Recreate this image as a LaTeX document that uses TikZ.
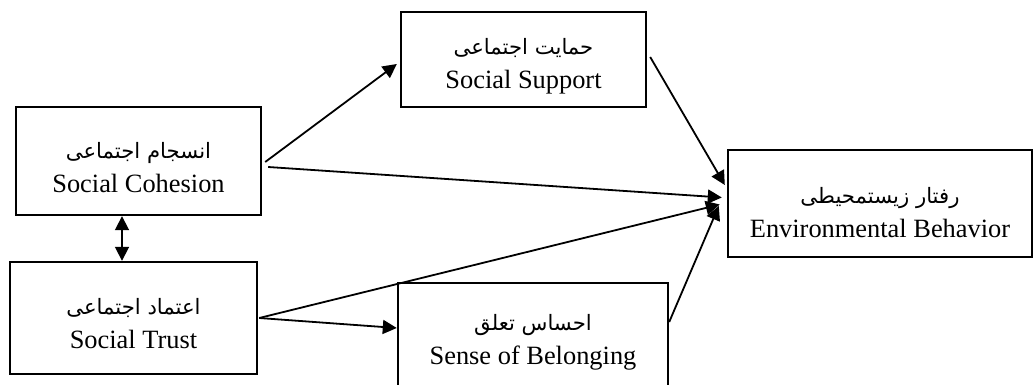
\documentclass[tikz,border=0pt]{standalone}
\usepackage{fontspec}
\setmainfont{Liberation Serif}
\newfontfamily\arabicfont[Script=Arabic]{DejaVu Sans}
\TeXXeTstate=1
\usetikzlibrary{arrows.meta,calc}
\newcommand{\pers}[1]{{\arabicfont\fontsize{10.6}{16}\selectfont\beginR #1\endR}}
\begin{document}
\begin{tikzpicture}[x=0.5pt,y=-0.5pt,
  box/.style={draw, line width=1.2pt, inner sep=0pt},
  txt/.style={inner sep=0pt, align=center, font=\fontsize{13.2}{16}\selectfont},
  >={Triangle[length=7pt,width=7pt]},
  arr/.style={line width=0.9pt, ->},
]
\clip (0,0) rectangle (1035,385);
\node[box, minimum width=122.5pt, minimum height=54pt] (coh) at (138.5,161) {};
\node[txt] (coht) at ($(coh)+(0,7)$) {\pers{انسجام اجتماعی}\\[1pt]Social Cohesion};
\node[box, minimum width=123.5pt, minimum height=56pt] (tru) at (133.5,318) {};
\node[txt] (trut) at ($(tru)+(0,6)$) {\pers{اعتماد اجتماعی}\\[1pt]Social Trust};
\node[box, minimum width=122.5pt, minimum height=47.5pt] (sup) at (523.5,59.5) {};
\node[txt] (supt) at ($(sup)+(0,7)$) {\pers{حمایت اجتماعی}\\[1pt]Social Support};
\node[box, minimum width=135pt, minimum height=56pt] (bel) at (533,339) {};
\node[txt] (belt) at ($(bel)+(0,3)$) {\pers{احساس تعلق}\\[1pt]Sense of Belonging};
\node[box, minimum width=152pt, minimum height=53.5pt] (eb) at (880,203.5) {};
\node[txt] (ebt) at ($(eb)+(0,9)$) {\pers{رفتار زیستمحیطی}\\[1pt]Environmental Behavior};

\draw[arr] ($(coh.east)+(3,1)$) -- ($(sup.west)+(-3,4.5)$);
\draw[arr] ($(coh.east)+(6,6)$) -- ($(eb.west)+(-5,-6)$);
\draw[arr] ($(sup.east)+(3,-2.5)$) -- ($(eb.west)+(-2,-18.5)$);
\draw[arr] ($(tru.east)+(1,0)$) -- ($(eb.west)+(-7,1)$);
\draw[arr] ($(tru.east)+(1,0)$) -- ($(bel.west)+(0,-11)$);
\draw[arr] ($(bel.east)+(0,-17)$) -- ($(eb.west)+(-8,2.5)$);
\draw[arr,<->] ($(coh.south)+(-16.5,0)$) -- ($(tru.north)+(-11.5,0)$);
\end{tikzpicture}
\end{document}
